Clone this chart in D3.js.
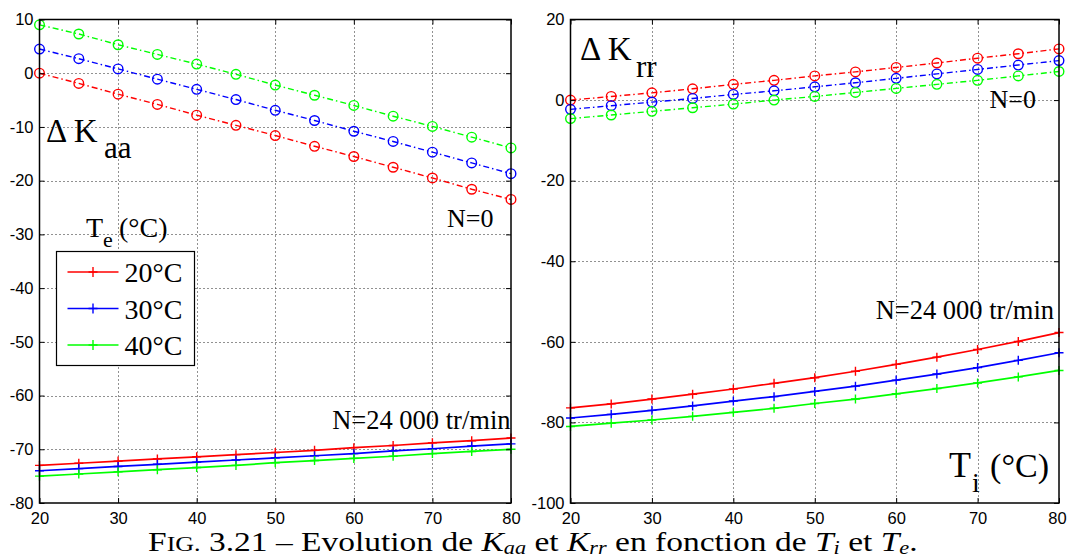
<!DOCTYPE html>
<html>
<head>
<meta charset="utf-8">
<script src="https://cdn.jsdelivr.net/npm/d3@7"></script>
<style>
  html, body { margin: 0; padding: 0; background: #fff; }
  svg { display: block; }
</style>
</head>
<body>
<svg id="chart" width="1067" height="557"></svg>
<script>
// ---------------- data ----------------
const temps = [20, 25, 30, 35, 40, 45, 50, 55, 60, 65, 70, 75, 80];
const seriesNames = ["20°C", "30°C", "40°C"];
const seriesColors = ["#ff0000", "#0000ff", "#00ff00"];

// Delta K_aa, N = 0
const aaN0_20 = [0, -1.9, -3.9, -5.8, -7.8, -9.7, -11.6, -13.6, -15.5, -17.5, -19.5, -21.6, -23.5];
const aaN0_30 = [4.5, 2.7, 0.8, -1.1, -3.0, -4.9, -6.9, -8.8, -10.8, -12.7, -14.7, -16.7, -18.7];
const aaN0_40 = [9.0, 7.3, 5.3, 3.5, 1.7, -0.2, -2.2, -4.1, -6.0, -8.0, -9.9, -11.9, -13.9];
// Delta K_aa, N = 24 000 tr/min
const aaN24_20 = [-73.0, -72.6, -72.2, -71.8, -71.4, -71.0, -70.6, -70.2, -69.7, -69.3, -68.8, -68.4, -67.9];
const aaN24_30 = [-74.0, -73.6, -73.2, -72.8, -72.4, -72.0, -71.6, -71.2, -70.8, -70.3, -69.9, -69.4, -69.0];
const aaN24_40 = [-75.0, -74.6, -74.2, -73.8, -73.4, -73.0, -72.5, -72.1, -71.7, -71.3, -70.8, -70.4, -70.0];
// Delta K_rr, N = 0
const rrN0_20 = [0, 0.9, 1.8, 2.8, 3.9, 4.9, 6.0, 7.0, 8.1, 9.2, 10.4, 11.5, 12.7];
const rrN0_30 = [-2.3, -1.4, -0.5, 0.4, 1.4, 2.3, 3.3, 4.3, 5.4, 6.5, 7.6, 8.7, 9.8];
const rrN0_40 = [-4.6, -3.7, -2.8, -1.9, -1.0, 0, 0.9, 1.9, 2.9, 3.9, 4.9, 6.0, 7.1];
// Delta K_rr, N = 24 000 tr/min
const rrN24_20 = [-76.4, -75.4, -74.2, -73.0, -71.7, -70.3, -68.9, -67.3, -65.6, -63.8, -61.9, -59.9, -57.7];
const rrN24_30 = [-78.9, -78.0, -77.0, -75.9, -74.7, -73.6, -72.3, -71.0, -69.5, -68.0, -66.4, -64.6, -62.7];
const rrN24_40 = [-81.0, -80.2, -79.4, -78.5, -77.5, -76.5, -75.3, -74.2, -72.9, -71.6, -70.2, -68.7, -67.1];

const xTicks = [20, 30, 40, 50, 60, 70, 80];
const yTicksAa = [10, 0, -10, -20, -30, -40, -50, -60, -70, -80];
const yTicksRr = [20, 0, -20, -40, -60, -80, -100];

// ---------------- drawing ----------------
const svg = d3.select("#chart");
const SERIF = "'Liberation Serif', 'Times New Roman', serif";
const SANS = "'Liberation Sans', Arial, Helvetica, sans-serif";

function panel(box, yDomain, yTicks, n0, n24, lastDx) {
  const g = svg.append("g");
  const x = d3.scaleLinear().domain([20, 80]).range([box.x0, box.x1]);
  const y = d3.scaleLinear().domain(yDomain).range([box.y1, box.y0]);

  // grid
  const grid = g.append("g").attr("stroke", "#222").attr("stroke-width", 1)
    .attr("stroke-dasharray", "1,3").attr("fill", "none");
  grid.selectAll("line.vx").data(xTicks.filter(t => t > 20 && t < 80)).join("line")
    .attr("x1", d => Math.round(x(d)) + 0.5).attr("x2", d => Math.round(x(d)) + 0.5)
    .attr("y1", box.y0).attr("y2", box.y1);
  grid.selectAll("line.hy").data(yTicks.filter(t => t > yDomain[0] && t < yDomain[1])).join("line")
    .attr("y1", d => Math.round(y(d)) + 0.5).attr("y2", d => Math.round(y(d)) + 0.5)
    .attr("x1", box.x0).attr("x2", box.x1);

  const line = d3.line().x((d, i) => x(temps[i])).y(d => y(d));

  // N = 0 : dash-dot with circles
  n0.forEach((vals, k) => {
    g.append("path").datum(vals).attr("d", line)
      .attr("fill", "none").attr("stroke", seriesColors[k]).attr("stroke-width", 1.4)
      .attr("stroke-dasharray", "6,3,1.5,3");
    g.append("g").selectAll("circle").data(vals).join("circle")
      .attr("cx", (d, i) => x(temps[i])).attr("cy", d => y(d)).attr("r", 4.8)
      .attr("fill", "none").attr("stroke", seriesColors[k]).attr("stroke-width", 1.4);
  });
  // N = 24000 : solid with plus markers
  n24.forEach((vals, k) => {
    g.append("path").datum(vals).attr("d", line)
      .attr("fill", "none").attr("stroke", seriesColors[k]).attr("stroke-width", 1.7);
    g.append("g").selectAll("path").data(vals).join("path")
      .attr("transform", (d, i) => `translate(${x(temps[i])},${y(d)})`)
      .attr("d", "M-4.5,0H4.5M0,-4.5V4.5")
      .attr("fill", "none").attr("stroke", seriesColors[k]).attr("stroke-width", 1.4);
  });

  // border
  g.append("rect").attr("x", box.x0).attr("y", box.y0)
    .attr("width", box.x1 - box.x0).attr("height", box.y1 - box.y0)
    .attr("fill", "none").attr("stroke", "#000").attr("stroke-width", 1.5);

  const fmt = d => String(d);
  const styleAxis = sel => {
    sel.select(".domain").remove();
    sel.selectAll(".tick line").attr("stroke", "#000").attr("stroke-width", 1);
    sel.selectAll(".tick text").attr("fill", "#000");
    sel.attr("font-family", SANS).attr("font-size", 16.5);
  };
  g.append("g").attr("transform", `translate(${box.x0},0)`)
    .call(d3.axisLeft(y).tickValues(yTicks).tickFormat(fmt).tickSizeInner(-5).tickSizeOuter(0).tickPadding(6))
    .call(styleAxis);
  g.append("g").attr("transform", `translate(${box.x1},0)`)
    .call(d3.axisRight(y).tickValues(yTicks).tickFormat("").tickSizeInner(-5).tickSizeOuter(0))
    .call(styleAxis);
  const xb = g.append("g").attr("transform", `translate(0,${box.y1})`)
    .call(d3.axisBottom(x).tickValues(xTicks).tickFormat(fmt).tickSizeInner(-5).tickSizeOuter(0).tickPadding(9))
    .call(styleAxis);
  if (lastDx) xb.selectAll(".tick text").filter(d => d === 80).attr("dx", lastDx);
  g.append("g").attr("transform", `translate(0,${box.y0})`)
    .call(d3.axisTop(x).tickValues(xTicks).tickFormat("").tickSizeInner(-5).tickSizeOuter(0))
    .call(styleAxis);
  return g;
}

const boxL = { x0: 39.5, x1: 511, y0: 19.5, y1: 503 };
const boxR = { x0: 570.5, x1: 1059, y0: 19.5, y1: 503 };

panel(boxL, [-80, 10], yTicksAa, [aaN0_20, aaN0_30, aaN0_40], [aaN24_20, aaN24_30, aaN24_40], 0);
panel(boxR, [-100, 20], yTicksRr, [rrN0_20, rrN0_30, rrN0_40], [rrN24_20, rrN24_30, rrN24_40], -2);

function txt(x, y, s, size, extra) {
  const t = svg.append("text").attr("x", x).attr("y", y).text(s)
    .attr("font-family", SERIF).attr("font-size", size).attr("fill", "#000");
  if (extra) extra(t);
  return t;
}

// annotations left
txt(46, 141.5, "Δ K", 33);
txt(104, 158, "aa", 31);
txt(493.5, 226.5, "N=0", 26, t => t.attr("text-anchor", "end"));
txt(510.5, 429, "N=24 000 tr/min", 26.5, t => t.attr("text-anchor", "end"));
txt(86, 236.5, "T", 28);
txt(103, 247, "e", 22);
txt(119, 236.5, "(°C)", 28);

// annotations right
txt(580, 60, "Δ K", 33);
txt(636, 77, "rr", 31);
txt(1036, 108, "N=0", 26, t => t.attr("text-anchor", "end"));
txt(1054, 319, "N=24 000 tr/min", 26.5, t => t.attr("text-anchor", "end"));
txt(949, 477, "T", 36);
txt(972, 492, "i", 28);
txt(1049, 477, "(°C)", 34, t => t.attr("text-anchor", "end"));

// legend
const leg = svg.append("g");
leg.append("rect").attr("x", 56.5).attr("y", 251.5).attr("width", 138).attr("height", 114)
  .attr("fill", "#fff").attr("stroke", "#000").attr("stroke-width", 1.2);
const legY = [272, 308.5, 345];
seriesNames.forEach((name, k) => {
  leg.append("line").attr("x1", 67.5).attr("x2", 118.5).attr("y1", legY[k]).attr("y2", legY[k])
    .attr("stroke", seriesColors[k]).attr("stroke-width", 1.7);
  leg.append("path").attr("transform", `translate(93,${legY[k]})`).attr("d", "M-4.5,0H4.5M0,-5V5")
    .attr("stroke", seriesColors[k]).attr("stroke-width", 1.4).attr("fill", "none");
  leg.append("text").attr("x", 124.5).attr("y", legY[k] + 10).text(name)
    .attr("font-family", SERIF).attr("font-size", 28).attr("fill", "#000");
});

// caption
const cap = svg.append("text").attr("x", 0).attr("y", 0)
  .attr("font-family", SERIF).attr("font-size", 27).attr("fill", "#000");
const parts = [
  ["F", {}], ["IG.", { size: 21 }], [" 3.21 – Evolution de ", {}],
  ["K", { it: true }], ["aa", { it: true, size: 18, dy: 3 }], [" et ", { dy: -3 }],
  ["K", { it: true }], ["rr", { it: true, size: 18, dy: 3 }], [" en fonction de ", { dy: -3 }],
  ["T", { it: true }], ["i", { it: true, size: 18, dy: 3 }], [" et ", { dy: -3 }],
  ["T", { it: true }], ["e", { it: true, size: 18, dy: 3 }], [".", { dy: -3 }]
];
parts.forEach(([s, o]) => {
  const ts = cap.append("tspan").text(s);
  if (o.size) ts.attr("font-size", o.size);
  if (o.it) ts.attr("font-style", "italic");
  if (o.dy) ts.attr("dy", o.dy);
});
const capW = cap.node().getBBox().width;
const targetW = 770;
cap.attr("transform", `translate(148,551) scale(${targetW / capW},1)`);
</script>
</body>
</html>
